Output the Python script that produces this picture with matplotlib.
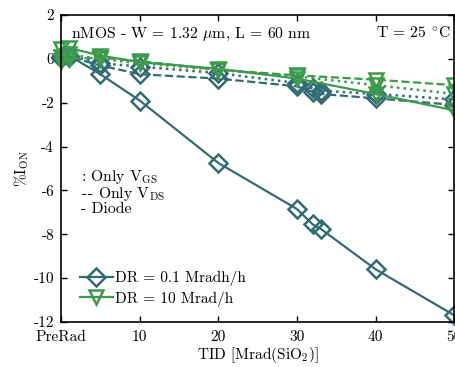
import numpy as np
import matplotlib
matplotlib.use('Agg')
import matplotlib.pyplot as plt

plt.rcParams['font.family'] = ['cmr10', 'DejaVu Serif']
plt.rcParams['mathtext.fontset'] = 'cm'
plt.rcParams['axes.unicode_minus'] = False

# TID [Mrad] doses
x_lo = [0, 1, 5, 10, 20, 30, 32, 33, 40, 50]
x_hi = [0, 1, 5, 10, 20, 30, 40, 50]

# DR = 0.1 Mrad/h
lo_diode = [0.1, 0.15, -0.7, -1.9, -4.75, -6.85, -7.55, -7.75, -9.6, -11.7]
lo_vgs = [0.1, 0.15, -0.2, -0.35, -0.65, -1.1, -1.35, -1.45, -1.6, -1.85]
lo_vds = [0.05, 0.1, -0.3, -0.7, -0.9, -1.25, -1.5, -1.6, -1.8, -2.1]

# DR = 10 Mrad/h
hi_diode = [0.45, 0.5, 0.15, -0.15, -0.45, -0.9, -1.6, -2.35]
hi_vgs = [0.1, 0.2, 0.0, -0.2, -0.5, -0.8, -1.2, -1.6]
hi_vds = [-0.1, 0.0, 0.05, -0.1, -0.5, -0.75, -0.95, -1.2]

xticks = [0, 10, 20, 30, 40, 50]
xticklabels = ['PreRad', '10', '20', '30', '40', '50']
yticks = [2, 0, -2, -4, -6, -8, -10, -12]

c_lo = '#336b74'
c_hi = '#3d9a4c'

fig = plt.figure(figsize=(4.56, 3.67), dpi=100)
ax = fig.add_axes([0.134, 0.123, 0.862, 0.836])

mk = dict(markersize=9.5, markerfacecolor='none', markeredgewidth=1.8, clip_on=False)
ax.plot(x_lo, lo_diode, '-', color=c_lo, lw=1.6, marker='D', label='DR = 0.1 Mradh/h', **mk)
ax.plot(x_lo, lo_vgs, ':', color=c_lo, lw=1.8, marker='D', **mk)
ax.plot(x_lo, lo_vds, '--', color=c_lo, lw=1.6, marker='D', **mk)
ax.plot(x_hi, hi_diode, '-', color=c_hi, lw=1.6, marker='v', label='DR = 10 Mrad/h', **mk)
ax.plot(x_hi, hi_vgs, ':', color=c_hi, lw=1.8, marker='v', **mk)
ax.plot(x_hi, hi_vds, '--', color=c_hi, lw=1.6, marker='v', **mk)

ax.set_xlim(0, 50)
ax.set_ylim(-12, 2)
ax.set_xticks(xticks)
ax.set_xticklabels(xticklabels)
ax.set_yticks(yticks)
ax.set_yticklabels([str(t) for t in yticks])
ax.tick_params(direction='in', top=True, right=True, labelsize=11, width=1, length=4)
ax.tick_params(axis='x', pad=6)
ax.tick_params(axis='y', pad=5)
for s in ax.spines.values():
    s.set_linewidth(1.2)

ax.set_xlabel(r'TID [Mrad(SiO$_2$)]', fontsize=11, labelpad=1)
ax.set_ylabel(r'%I$_{\mathrm{ON}}$', fontsize=11, labelpad=2)

ax.text(0.025, 0.965, r'nMOS - W = 1.32 $\mu$m, L = 60 nm', transform=ax.transAxes,
        ha='left', va='top', fontsize=11.3)
ax.text(0.99, 0.965, r'T = 25 $^{\circ}$C', transform=ax.transAxes,
        ha='right', va='top', fontsize=11.3)

ax.text(0.05, 0.472, ': Only V$_{\\mathrm{GS}}$', transform=ax.transAxes, fontsize=11.3, va='center')
ax.text(0.05, 0.417, r'-$\hspace{0.1}$- Only V$_{\mathrm{DS}}$', transform=ax.transAxes, fontsize=11.3, va='center')
ax.text(0.05, 0.366, '- Diode', transform=ax.transAxes, fontsize=11.3, va='center')

ax.legend(loc='lower left', frameon=False, fontsize=11, handlelength=2.2,
          handletextpad=0.1, borderaxespad=0.3, labelspacing=0.3,
          bbox_to_anchor=(0.02, 0.015))

fig.savefig('out.png', dpi=100)
